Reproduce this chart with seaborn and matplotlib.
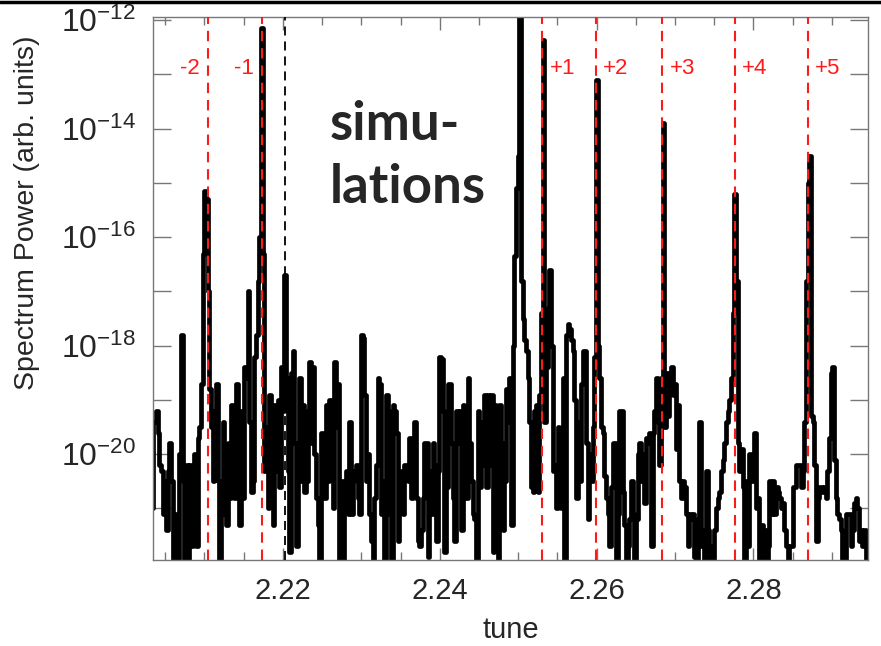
import numpy as np
import pandas as pd
import matplotlib
matplotlib.use("Agg")
import matplotlib.pyplot as plt
import matplotlib.ticker as mticker
from matplotlib.lines import Line2D
import seaborn as sns

# log10(spectrum power) in 7 chunks from left to right
logp_a = [-20.3, -21.0, -19.4, -19.4, -19.2, -19.6, -20.2, -20.3, -21.1, -20.5,
          -21.4, -20.3, -19.8, -20.5, -22.3, -21.4, -21.1, -22.3, -20.0, -17.8,
          -20.5, -22.3, -20.2, -22.3, -20.2, -21.7, -21.1, -20.0, -21.7, -19.7,
          -19.5, -18.7, -16.3, -15.15, -15.3, -17.0, -18.8, -19.5, -20.5, -19.2,
          -18.7, -20.5, -22.3, -20.5, -19.4, -21.1, -21.3, -19.8, -20.8, -19.1,
          -20.0, -20.8, -18.7, -20.2, -21.3, -19.2, -20.8, -18.4, -18.6, -17.0,
          -19.4, -20.7]
logp_b = [-20.5, -18.2, -17.8, -16.8, -16.0, -12.15, -16.3, -20.3, -19.5, -21.0,
          -18.9, -20.6, -21.3, -19.1, -20.3, -19.0, -20.6, -18.4, -19.2, -16.7,
          -18.6, -20.3, -21.8, -18.5, -18.1, -19.8, -21.7, -20.5, -18.6, -20.5,
          -19.1, -20.7, -20.5, -19.2, -18.3, -19.8, -18.4, -20.0, -20.8, -21.3,
          -22.3, -19.6, -19.8, -20.8, -19.1, -20.5, -19.0, -19.0, -21.0, -18.3,
          -19.5, -18.7, -22.3, -20.5, -22.3, -20.8, -20.3, -21.1, -19.4, -21.1,
          -20.5, -20.3]
logp_c = [-20.2, -20.8, -21.1, -17.8, -17.85, -18.9, -20.5, -20.0, -21.1, -21.6,
          -22.3, -20.8, -20.2, -18.6, -18.7, -21.1, -20.5, -22.3, -18.9, -19.2,
          -21.1, -22.3, -19.1, -19.2, -19.6, -21.6, -20.3, -20.5, -21.1, -20.2,
          -20.2, -20.5, -19.7, -20.8, -19.7, -19.4, -20.8, -21.6, -21.7, -21.4,
          -20.8, -19.8, -19.8, -21.9, -20.3, -21.1, -19.8, -20.2, -21.6, -20.3,
          -18.2, -18.25, -19.2, -21.8, -20.6, -18.7, -18.7, -19.8, -20.8, -21.6,
          -19.2, -19.8]
logp_d = [-19.2, -21.4, -19.1, -20.3, -20.8, -18.6, -19.8, -20.5, -21.1, -21.2,
          -22.3, -19.2, -20.6, -19.4, -20.2, -18.9, -20.6, -18.9, -20.2, -18.9,
          -21.8, -19.1, -20.1, -22.3, -19.1, -19.8, -21.4, -20.5, -18.8, -19.4,
          -18.6, -21.3, -18.0, -16.35, -15.1, -14.5, -11.9, -16.8, -17.5, -17.9,
          -18.1, -18.6, -19.4, -20.6, -20.7, -19.2, -19.1, -20.7, -18.9, -17.4,
          -12.36, -19.4, -18.4, -17.3, -16.6, -18.0, -20.3, -20.2, -21.0, -19.5,
          -20.3, -21.0]
logp_e = [-18.6, -22.3, -17.8, -17.6, -17.7, -17.9, -18.1, -19.0, -20.8, -19.4,
          -20.5, -18.7, -18.1, -18.1, -19.8, -21.2, -20.0, -20.5, -19.5, -18.2,
          -13.1, -18.0, -18.6, -19.5, -19.6, -20.4, -20.8, -21.1, -21.7, -20.6,
          -19.8, -19.8, -22.3, -21.1, -19.2, -19.2, -20.7, -21.3, -22.3, -21.7,
          -21.2, -20.5, -21.1, -22.3, -21.2, -20.0, -19.8, -20.5, -20.0, -20.9,
          -19.7, -19.8, -19.6, -21.7, -19.6, -19.2, -18.6, -19.4, -20.2, -18.6,
          -13.9, -19.5]
logp_f = [-18.5, -19.3, -18.6, -18.4, -18.9, -18.7, -19.9, -19.1, -20.5, -20.8,
          -20.5, -20.6, -21.1, -21.7, -21.1, -21.2, -21.1, -21.9, -22.3, -21.2,
          -19.4, -21.7, -21.4, -22.3, -20.3, -21.4, -22.3, -21.7, -22.3, -21.4,
          -21.0, -20.8, -20.7, -20.3, -20.1, -19.8, -19.4, -19.2, -19.0, -18.6,
          -17.4, -15.2, -16.8, -19.8, -20.3, -19.9, -20.6, -22.3, -20.5, -21.7,
          -20.0, -20.5, -20.1, -19.6, -21.0, -20.8, -22.3, -21.3, -22.3, -21.4,
          -22.3, -21.7]
logp_g = [-20.5, -21.1, -20.5, -21.1, -20.6, -20.7, -20.8, -21.0, -20.9, -21.4,
          -21.7, -22.3, -21.7, -21.7, -20.6, -20.6, -20.2, -20.2, -20.2, -20.6,
          -20.3, -19.4, -16.8, -15.0, -14.5, -19.3, -19.4, -20.2, -21.6, -20.8,
          -20.6, -20.6, -20.7, -20.6, -20.8, -20.3, -19.7, -18.5, -18.4, -20.1,
          -20.8, -21.1, -21.2, -21.4, -22.3, -22.3, -21.1, -21.1, -21.1, -21.7,
          -21.4, -20.9, -20.8, -21.0, -21.6, -21.4, -21.7, -21.4, -22.3, -21.7,
          -21.7, -22.3]
tune_first = 2.20309
tune_last = 2.29507

# sideband markers
sideband_tunes = [2.2104, 2.2173, 2.2531, 2.2599, 2.2684, 2.2776, 2.2870]
sideband_labels = ["-2", "-1", "+1", "+2", "+3", "+4", "+5"]
black_line_tune = 2.2203

logp = logp_a + logp_b + logp_c + logp_d + logp_e + logp_f + logp_g
frame = pd.DataFrame({
    "tune": np.linspace(tune_first, tune_last, len(logp)),
    "power": np.power(10.0, logp),
})

sns.set_style("ticks")
plt.rcParams["font.family"] = ["Liberation Sans", "DejaVu Sans"]
plt.rcParams["mathtext.fontset"] = "custom"
plt.rcParams["mathtext.rm"] = "Liberation Sans"

fig = plt.figure(figsize=(8.81, 6.46), dpi=100)
ax = fig.add_axes([0.1733, 0.1331, 0.8119, 0.8406])

sns.lineplot(data=frame, x="tune", y="power", ax=ax, color="black",
             linewidth=3.4, drawstyle="steps-mid", estimator=None, zorder=2)

ax.set_yscale("log")
ax.set_xlim(2.2034, 2.2946)
ax.set_ylim(10 ** -21.95, 10 ** -11.94)

red = "#ff1a1a"
for t, lab in zip(sideband_tunes, sideband_labels):
    ax.axvline(t, color=red, linestyle=(0, (5, 3.3)), linewidth=1.5, zorder=3)
    if lab.startswith("-"):
        ax.annotate(lab, xy=(t, 0.905), xycoords=("data", "axes fraction"),
                    xytext=(-8, 0), textcoords="offset pixels", ha="right",
                    va="center", color=red, fontsize=16)
    else:
        ax.annotate(lab, xy=(t, 0.905), xycoords=("data", "axes fraction"),
                    xytext=(7, 0), textcoords="offset pixels", ha="left",
                    va="center", color=red, fontsize=16)
ax.axvline(black_line_tune, color="black", linestyle=(0, (5, 3.3)),
           linewidth=1.3, zorder=3)

ax.text(0.248, 0.7735, "simu-", transform=ax.transAxes, fontsize=38,
        fontweight="bold", family=["Lato", "DejaVu Sans"], va="baseline")
ax.text(0.248, 0.6575, "lations", transform=ax.transAxes, fontsize=38,
        fontweight="bold", family=["Lato", "DejaVu Sans"], va="baseline")

# ticks: decades on y (labels every 2), 0.005 steps on x (labels every 0.02)
ax.yaxis.set_major_locator(mticker.FixedLocator([10.0 ** e for e in range(-21, -11)]))
ax.yaxis.set_minor_locator(mticker.NullLocator())
ax.yaxis.set_major_formatter(mticker.FuncFormatter(
    lambda v, pos: r"$\mathregular{10^{%d}}$" % round(np.log10(v))
    if round(np.log10(v)) % 2 == 0 else ""))
ax.xaxis.set_major_locator(mticker.MultipleLocator(0.02))
ax.xaxis.set_minor_locator(mticker.MultipleLocator(0.005))
ax.xaxis.set_major_formatter(mticker.FormatStrFormatter("%.2f"))

ax.tick_params(axis="both", which="both", direction="in", top=True, right=True,
               color="#777777", width=1)
ax.tick_params(axis="y", which="major", length=13, labelsize=23, pad=12)
ax.tick_params(axis="x", which="major", length=9, labelsize=21, pad=12)
ax.tick_params(axis="x", which="minor", length=6)
for sp in ax.spines.values():
    sp.set_color("#777777")
    sp.set_linewidth(1)

ax.set_xlabel("tune", fontsize=21, labelpad=8)
ax.set_ylabel("Spectrum Power (arb. units)", fontsize=20.5)
ax.yaxis.set_label_coords(-0.158, 0.639)

fig.add_artist(Line2D([0, 1], [0.9975, 0.9975], transform=fig.transFigure,
                      color="black", linewidth=2.5))

fig.savefig("out.png", dpi=100)
